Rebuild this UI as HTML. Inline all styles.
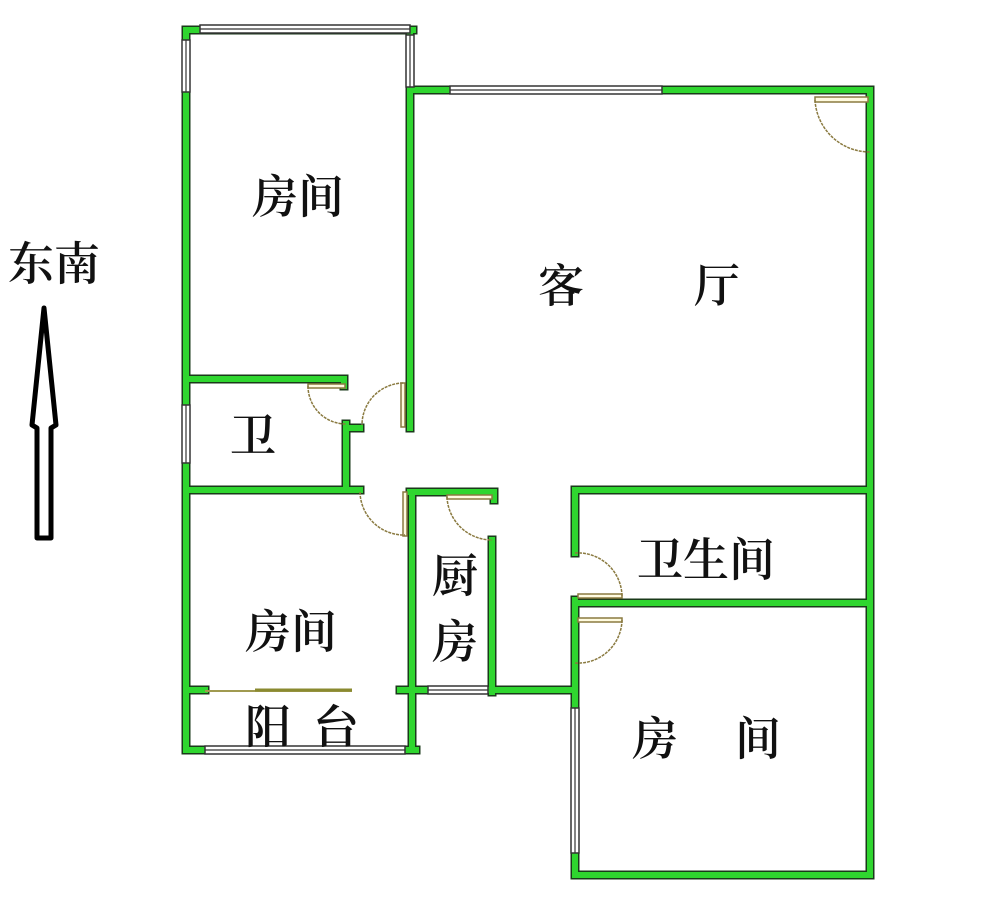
<!DOCTYPE html>
<html><head><meta charset="utf-8"><style>
html,body{margin:0;padding:0;background:#fff;}
svg{display:block}
text{font-family:"Liberation Serif","Noto Serif CJK SC",serif;font-size:46px;fill:#111;font-weight:600}
.wo{fill:none;stroke:#1a3a1a;stroke-width:9;stroke-linecap:square}
.wg{fill:none;stroke:#2fd62f;stroke-width:6;stroke-linecap:square}
.win{fill:#fff;stroke:#333;stroke-width:1.5}
.wl{stroke:#333;stroke-width:1.2}
.door{fill:none;stroke:#8a7a40;stroke-width:1.5;stroke-dasharray:3 1}
.leaf{fill:#fffbe0;stroke:#8a7a40;stroke-width:1.5}
</style></head><body>
<svg width="1000" height="906" viewBox="0 0 1000 906">
<defs>
<g id="walls">
<path d="M186 30 H413 M186 30 V750 H416"/>
<path d="M410 30 V428"/>
<path d="M413 90 H870 V875 H575 V600"/>
<path d="M186 379 H344 V386"/>
<path d="M346 424 V490 M346 428 H360"/>
<path d="M186 490 H360"/>
<path d="M410 492 H494 V500 M412 492 V750"/>
<path d="M492 540 V692 M412 690 H575 V663"/>
<path d="M575 553 V490 H870 M575 603 H870"/>
<path d="M186 690 H205 M400 690 H412"/>
</g>
</defs>
<use href="#walls" class="wo"/>
<use href="#walls" class="wg"/>
<!-- windows -->
<rect class="win" x="200" y="25" width="210" height="8"/><line class="wl" x1="200" y1="29" x2="410" y2="29"/>
<rect class="win" x="182" y="40" width="8" height="52"/><line class="wl" x1="186" y1="40" x2="186" y2="92"/>
<rect class="win" x="406" y="35" width="8" height="52"/><line class="wl" x1="410" y1="35" x2="410" y2="87"/>
<rect class="win" x="450" y="86" width="212" height="8"/><line class="wl" x1="450" y1="90" x2="662" y2="90"/>
<rect class="win" x="182" y="405" width="8" height="58"/><line class="wl" x1="186" y1="405" x2="186" y2="463"/>
<rect class="win" x="205" y="746" width="200" height="8"/><line class="wl" x1="205" y1="750" x2="405" y2="750"/>
<rect class="win" x="428" y="686" width="60" height="8"/><line class="wl" x1="428" y1="690" x2="488" y2="690"/>
<rect class="win" x="571" y="708" width="8" height="145"/><line class="wl" x1="575" y1="708" x2="575" y2="853"/>
<!-- balcony line -->
<line x1="205" y1="691" x2="352" y2="691" stroke="#a09a50" stroke-width="2"/>
<line x1="255" y1="690" x2="352" y2="690" stroke="#8a8a30" stroke-width="3"/>
<!-- doors -->
<rect class="leaf" x="815" y="97" width="53" height="5"/>
<path class="door" d="M815 100 A55 55 0 0 0 870 152"/>
<rect class="leaf" x="308" y="384" width="37" height="4"/>
<path class="door" d="M308 386 A38 38 0 0 0 346 424"/>
<rect class="leaf" x="401" y="383" width="4" height="44"/>
<path class="door" d="M403 383 A42 42 0 0 0 362 425"/>
<rect class="leaf" x="403" y="492" width="4" height="44"/>
<path class="door" d="M360 492 A44 44 0 0 0 405 535"/>
<rect class="leaf" x="447" y="495" width="45" height="4"/>
<path class="door" d="M447 497 A45 45 0 0 0 492 540"/>
<rect class="leaf" x="578" y="594" width="44" height="4"/>
<path class="door" d="M575 553 A44 44 0 0 1 622 596"/>
<rect class="leaf" x="578" y="618" width="44" height="4"/>
<path class="door" d="M622 620 A44 44 0 0 1 575 663"/>
<!-- arrow -->
<path d="M44 308 L56 425 L51 428 V538 H37 V428 L32 425 Z" fill="#fff" stroke="#000" stroke-width="5" stroke-linejoin="round"/>
<!-- labels -->
<text x="8" y="280">东南</text>
<text x="252" y="213">房间</text>
<text x="538" y="302">客</text>
<text x="694" y="302">厅</text>
<text x="230" y="452">卫</text>
<text x="245" y="648">房间</text>
<text x="432" y="592">厨</text>
<text x="432" y="658">房</text>
<text x="637" y="576">卫生间</text>
<text x="245" y="743">阳</text>
<text x="313" y="743">台</text>
<text x="632" y="755">房</text>
<text x="735" y="755">间</text>
</svg>
</body></html>
